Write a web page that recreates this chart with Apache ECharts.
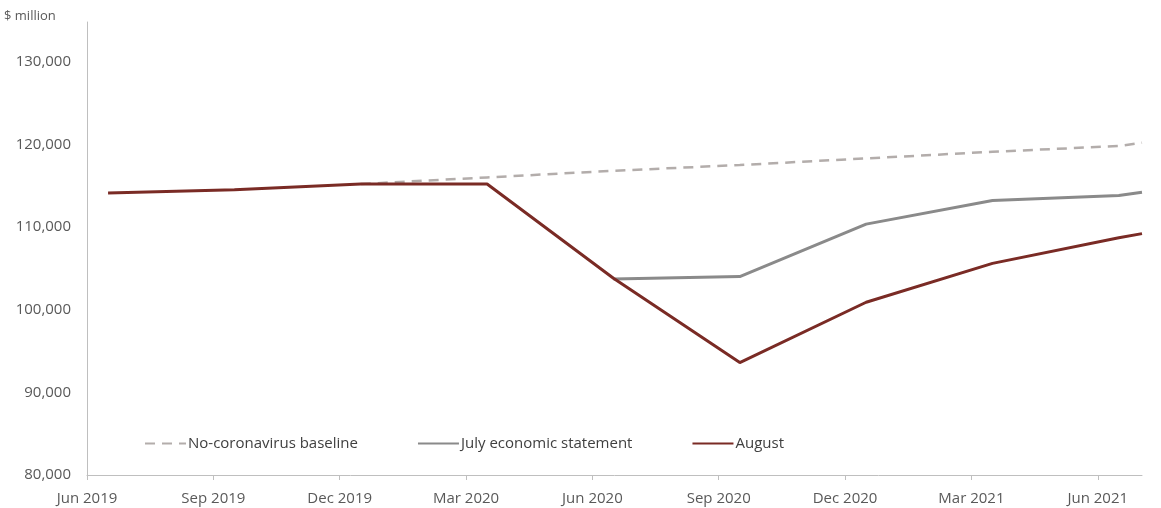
<!DOCTYPE html>
<html>
<head>
<meta charset="utf-8">
<script src="https://cdn.jsdelivr.net/npm/echarts@6/dist/echarts.min.js"></script>
<style>html,body{margin:0;padding:0;background:#fff;}#c{width:1161px;height:508px;}</style>
</head>
<body>
<div id="c"></div>
<script>
// Tick labels (one per quarter, x in months from Jun 2019)
const tickLabels = ['Jun 2019','Sep 2019','Dec 2019','Mar 2020','Jun 2020','Sep 2020','Dec 2020','Mar 2021','Jun 2021'];
const tickMonths = [0, 3, 6, 9, 12, 15, 18, 21, 24];
const yTicks = [80000, 90000, 100000, 110000, 120000, 130000];
// Data point positions (months from Jun 2019)
const pointMonths = [0.5, 3.5, 6.5, 9.5, 12.5, 15.5, 18.5, 21.5, 24.5, 25.05];
// Series values ($ million)
const baseline = [null, null, 115200, 116000, 116800, 117500, 118300, 119100, 119800, 120200];
const july     = [null, null, null, null, 103700, 104000, 110350, 113200, 113800, 114200];
const august   = [114100, 114500, 115200, 115200, 103800, 93600, 100900, 105600, 108700, 109200];

function pairs(vals) {
  const out = [];
  vals.forEach((v, i) => { if (v !== null) out.push([pointMonths[i], v]); });
  return out;
}

const chart = echarts.init(document.getElementById('c'), null, {renderer: 'canvas'});
const font = '"Open Sans", "Noto Sans", sans-serif';
chart.setOption({
  animation: false,
  backgroundColor: '#ffffff',
  grid: {left: 87, right: 19, top: 22, bottom: 33, containLabel: false, outerBoundsMode: 'none'},
  graphic: [{
    type: 'text', left: 4, top: 10,
    style: {text: '$ million', fill: '#595959', font: '13px ' + font}
  }],
  legend: {
    left: 139, top: 431,
    itemWidth: 41, itemHeight: 14, itemGap: 59,
    itemStyle: {opacity: 0},
    textStyle: {color: '#404040', fontSize: 15, fontFamily: font, padding: [0, 0, 0, -3]},
    data: ['No-coronavirus baseline', 'July economic statement', 'August']
  },
  xAxis: {
    type: 'value', min: 0, max: 25.05, interval: 3,
    axisLine: {show: true, lineStyle: {color: '#bfbfbf', width: 1}},
    axisTick: {show: true, length: 5, lineStyle: {color: '#bfbfbf'}, customValues: tickMonths},
    axisLabel: {
      customValues: tickMonths,
      color: '#595959', fontSize: 15, fontFamily: font, margin: 16,
      formatter: v => tickLabels[Math.round(v / 3)] || ''
    },
    splitLine: {show: false}
  },
  yAxis: {
    type: 'value', min: 80000, max: 134800, interval: 10000,
    axisLine: {show: true, lineStyle: {color: '#bfbfbf', width: 1}},
    axisTick: {show: false},
    axisLabel: {
      customValues: yTicks,
      color: '#595959', fontSize: 15, fontFamily: font, margin: 16,
      formatter: v => v.toLocaleString('en-US')
    },
    splitLine: {show: false}
  },
  series: [
    {
      name: 'No-coronavirus baseline', type: 'line', symbol: 'none',
      data: pairs(baseline), z: 1,
      lineStyle: {color: '#b3adab', width: 2.5, type: [10, 7]},
      itemStyle: {color: '#b3adab'}
    },
    {
      name: 'July economic statement', type: 'line', symbol: 'none',
      data: pairs(july), z: 2,
      lineStyle: {color: '#8a8a8a', width: 3},
      itemStyle: {color: '#8a8a8a'}
    },
    {
      name: 'August', type: 'line', symbol: 'none',
      data: pairs(august), z: 3,
      lineStyle: {color: '#7a2b25', width: 3},
      itemStyle: {color: '#7a2b25'}
    }
  ]
});
</script>
</body>
</html>
